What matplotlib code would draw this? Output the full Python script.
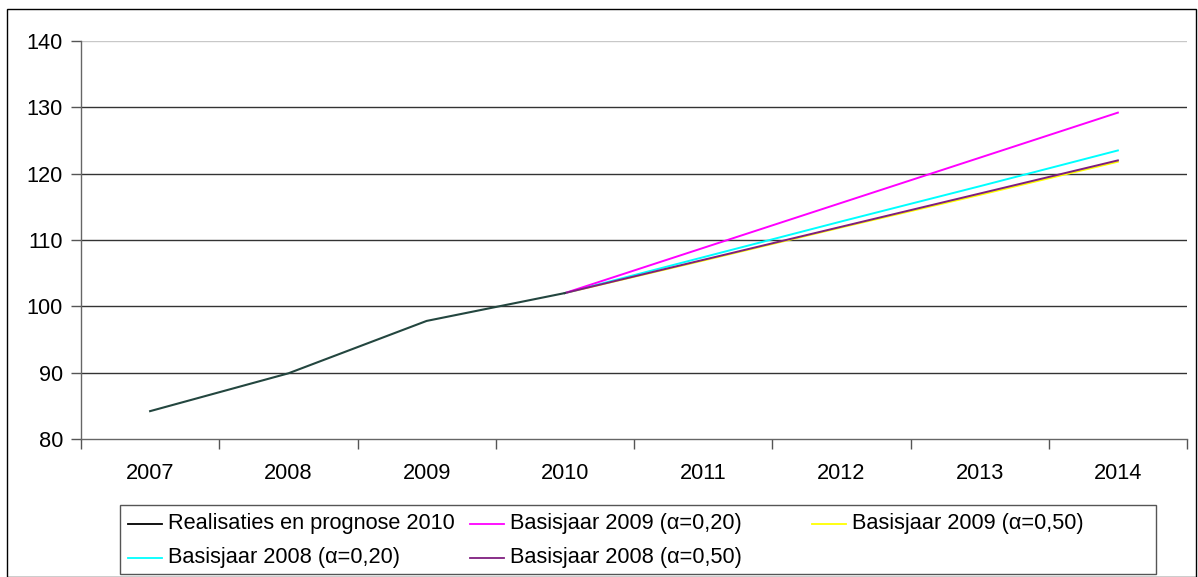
import matplotlib
matplotlib.use("Agg")
import matplotlib.pyplot as plt
from matplotlib.lines import Line2D
from matplotlib.patches import Rectangle

plt.rcParams['font.family'] = ['Liberation Sans', 'DejaVu Sans']

years = ['2007', '2008', '2009', '2010', '2011', '2012', '2013', '2014']
realisaties = [84.2, 89.9, 97.8, 102.0]
basis2009_a020 = [102.0, 108.8, 115.6, 122.4, 129.2]
basis2009_a050 = [102.0, 106.9, 111.9, 116.8, 121.8]
basis2008_a020 = [102.0, 107.4, 112.8, 118.1, 123.5]
basis2008_a050 = [102.0, 107.0, 112.0, 117.0, 122.0]
yticks = [80, 90, 100, 110, 120, 130, 140]

FS = 15.7
W, H = 1198, 577


def fx(px):
    return px / W


def fy(py):
    # pixel rows counted from the top
    return 1 - py / H


fig = plt.figure(figsize=(W / 100, H / 100), dpi=100)
fig.patches.append(Rectangle((fx(7), 0.0), fx(1189), fy(9), transform=fig.transFigure,
                             fill=False, edgecolor='black', linewidth=1.0))

ax = fig.add_axes([fx(81), fy(439), fx(1106), 398 / H])

x_hist = list(range(0, 4))
x_fc = list(range(3, 8))

series = [
    (basis2009_a050, '#ffff00', 3),
    (basis2008_a050, '#7f1f7f', 4),
    (basis2008_a020, '#00ffff', 3),
    (basis2009_a020, '#ff00ff', 3),
]
for vals, col, z in series:
    ax.plot(x_fc, vals, color=col, lw=1.4, zorder=z)
ax.plot(x_hist, realisaties, color='#23463f', lw=1.5, zorder=5)

ax.set_xlim(-0.5, 7.5)
ax.set_ylim(80, 140)
ax.set_yticks(yticks)
ax.set_yticklabels([str(v) for v in yticks], fontsize=FS)
ax.set_xticks(range(len(years)))
ax.set_xticklabels(years, fontsize=FS)
ax.set_xticks([i + 0.5 for i in range(-1, 8)], minor=True)
ax.tick_params(axis='x', which='major', length=0, pad=17)
ax.tick_params(axis='x', which='minor', length=7, width=1, color='#555555')
ax.tick_params(axis='y', length=7, width=1, color='#555555', pad=6)

for v in yticks[1:-1]:
    ax.axhline(v, color='#333333', lw=1.0, zorder=1)
ax.axhline(140, color='#c8c8c8', lw=1.0, zorder=1)

for s in ['top', 'right']:
    ax.spines[s].set_visible(False)
for s in ['left', 'bottom']:
    ax.spines[s].set_color('#666666')
    ax.spines[s].set_linewidth(1.0)

# Legend box drawn by hand in figure pixels
fig.patches.append(Rectangle((fx(120), fy(574)), fx(1036), 69 / H,
                             transform=fig.transFigure, fill=True,
                             facecolor='white', edgecolor='#555555',
                             linewidth=1.0, zorder=10))
legend_items = [
    ('Realisaties en prognose 2010', 'black', 128, 162, 168, 523),
    ('Basisjaar 2009 (α=0,20)', '#ff00ff', 470, 504, 510, 523),
    ('Basisjaar 2009 (α=0,50)', '#ffff00', 812, 846, 852, 523),
    ('Basisjaar 2008 (α=0,20)', '#00ffff', 128, 162, 168, 557),
    ('Basisjaar 2008 (α=0,50)', '#7f1f7f', 470, 504, 510, 557),
]
for label, col, h0, h1, tx, ty in legend_items:
    fig.add_artist(Line2D([fx(h0), fx(h1)], [fy(ty + 1), fy(ty + 1)],
                          transform=fig.transFigure, color=col, lw=1.3,
                          zorder=11))
    fig.text(fx(tx), fy(ty), label, fontsize=FS, ha='left', va='center',
             zorder=11)

fig.savefig('out.png', dpi=100)
